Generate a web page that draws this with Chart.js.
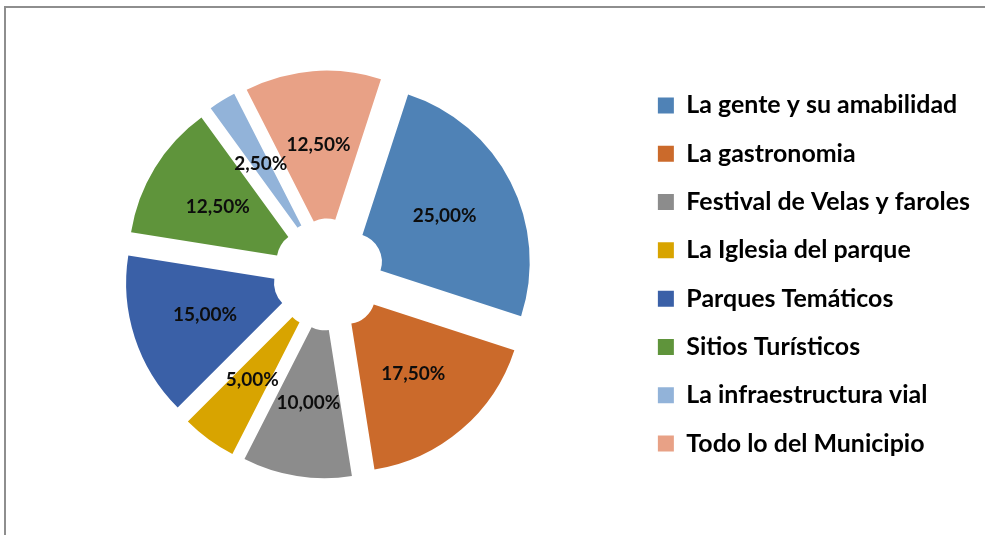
<!DOCTYPE html>
<html><head><meta charset="utf-8">
<script src="https://cdn.jsdelivr.net/npm/chart.js@4"></script>
<style>
html,body{margin:0;padding:0;background:#fff;overflow:hidden;}
#frame{position:absolute;left:4px;top:6px;width:2000px;height:2000px;border-top:2px solid #8e8e8e;border-left:2px solid #8e8e8e;}
#c{position:absolute;left:0;top:0;}
</style></head><body>
<div id="frame"></div>
<canvas id="c" width="985" height="535"></canvas>
<script>
const categories = ['La gente y su amabilidad','La gastronomia','Festival de Velas y faroles','La Iglesia del parque','Parques Temáticos','Sitios Turísticos','La infraestructura vial','Todo lo del Municipio'];
const values = [25, 17.5, 10, 5, 15, 12.5, 2.5, 12.5];
const valueLabels = ['25,00%','17,50%','10,00%','5,00%','15,00%','12,50%','2,50%','12,50%'];
const colors = ['#4f82b6','#cb6a2b','#8c8c8c','#d8a400','#3a60a7','#5f943b','#92b3d9','#e8a186'];

const FONT = 'Lato';
function fitSize(text, target){
  const c = document.createElement('canvas').getContext('2d');
  c.font = 'bold 100px ' + FONT;
  return 100 * target / c.measureText(text).width;
}
const legendSize = fitSize('La gente y su amabilidad', 271);
const labelSize = fitSize('25,00%', 64);
const EXPLODE = 28;
const ROW = 48.3;

const explodePlugin = {
  id: 'explode',
  beforeDatasetDraw(chart, args) {
    const ctx = chart.ctx;
    args.meta.data.forEach(arc => {
      const mid = (arc.startAngle + arc.endAngle) / 2;
      ctx.save();
      ctx.translate(Math.cos(mid) * EXPLODE, Math.sin(mid) * EXPLODE);
      arc.draw(ctx);
      ctx.restore();
    });
    return false;
  }
};
const labelPlugin = {
  id: 'valueLabels',
  afterDatasetsDraw(chart) {
    const ctx = chart.ctx;
    const meta = chart.getDatasetMeta(0);
    ctx.save();
    ctx.font = 'bold ' + labelSize + 'px ' + FONT;
    ctx.fillStyle = '#0d0d0d';
    ctx.textAlign = 'center';
    ctx.textBaseline = 'middle';
    meta.data.forEach((arc, i) => {
      const p = arc.getProps(['x','y','startAngle','endAngle','innerRadius','outerRadius'], true);
      const mid = (p.startAngle + p.endAngle) / 2;
      const dist = EXPLODE + (p.innerRadius + p.outerRadius) / 2;
      ctx.fillText(valueLabels[i], p.x + Math.cos(mid) * dist, p.y + Math.sin(mid) * dist);
    });
    ctx.restore();
  }
};

new Chart(document.getElementById('c'), {
  type: 'doughnut',
  data: {
    labels: categories,
    datasets: [{ data: values, backgroundColor: colors, borderWidth: 0 }]
  },
  options: {
    responsive: false,
    animation: false,
    rotation: 18,
    radius: 176,
    cutout: '16%',
    layout: { padding: { left: 23, right: 5, top: 16, bottom: 2 } },
    plugins: {
      tooltip: { enabled: false },
      legend: {
        position: 'right',
        align: 'center',
        labels: {
          boxWidth: 16, boxHeight: 16,
          padding: ROW - legendSize,
          color: '#000',
          font: { family: FONT, weight: 'bold', size: legendSize }
        }
      }
    }
  },
  plugins: [explodePlugin, labelPlugin]
});
</script>
</body></html>
